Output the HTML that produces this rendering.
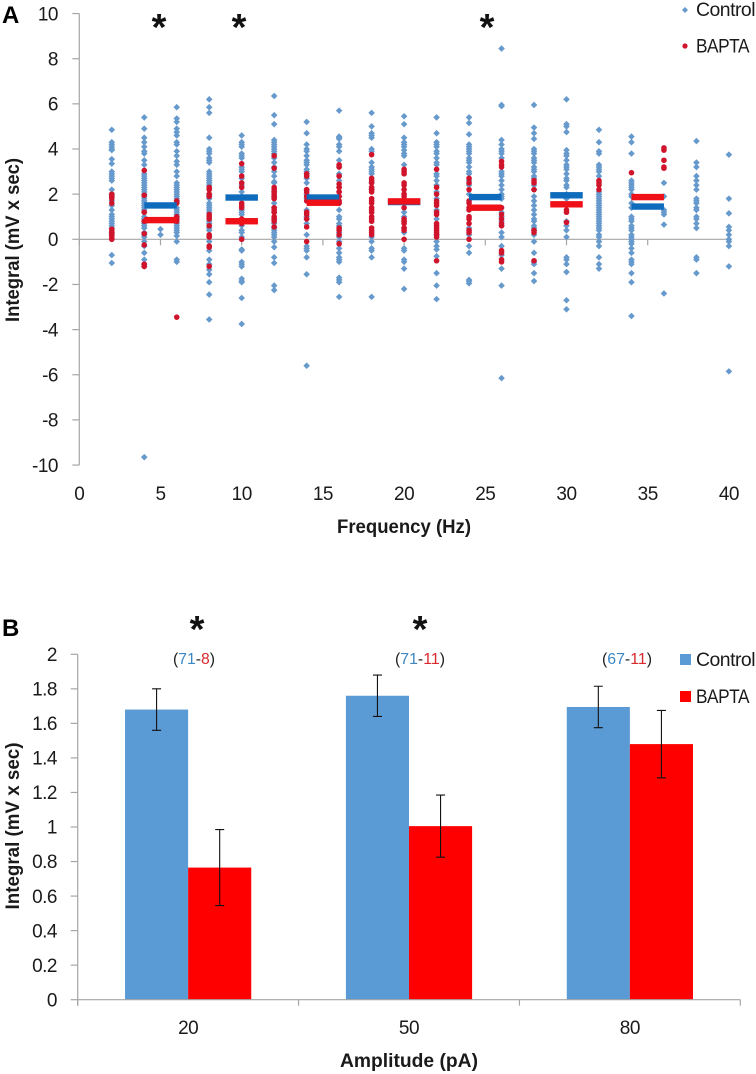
<!DOCTYPE html>
<html>
<head>
<meta charset="utf-8">
<title>Integral vs frequency and amplitude</title>
<style>
html,body{margin:0;padding:0;background:#fff;}
svg{display:block;font-family:"Liberation Sans",sans-serif;fill:#1a1a1a;}
.tick{font-size:19px;letter-spacing:-0.5px;}
.title{font-size:19px;font-weight:bold;}
</style>
</head>
<body>
<svg id="fig" xmlns="http://www.w3.org/2000/svg" width="756" height="1074" viewBox="0 0 756 1074">
  <rect width="756" height="1074" fill="#fff"/>
  <g id="panelA"></g>
  <g id="panelB"></g>

  <text x="2" y="23" font-size="24" font-weight="bold" fill="#000">A</text>
  <text x="2" y="636" font-size="24" font-weight="bold" fill="#000">B</text>

  <text class="title" transform="translate(19,240) rotate(-90)" text-anchor="middle" textLength="164" lengthAdjust="spacingAndGlyphs">Integral (mV x sec)</text>
  <text class="title" x="404" y="533" text-anchor="middle" textLength="134" lengthAdjust="spacingAndGlyphs">Frequency (Hz)</text>
  <text class="title" transform="translate(19,826) rotate(-90)" text-anchor="middle" textLength="167" lengthAdjust="spacingAndGlyphs">Integral (mV x sec)</text>
  <text class="title" x="409" y="1067" text-anchor="middle" textLength="138" lengthAdjust="spacingAndGlyphs">Amplitude (pA)</text>

  <text x="159" y="40" font-size="38" font-weight="bold" text-anchor="middle" fill="#111">*</text>
  <text x="239" y="40" font-size="38" font-weight="bold" text-anchor="middle" fill="#111">*</text>
  <text x="487" y="40" font-size="38" font-weight="bold" text-anchor="middle" fill="#111">*</text>
  <text x="197" y="642" font-size="38" font-weight="bold" text-anchor="middle" fill="#111">*</text>
  <text x="420" y="642" font-size="38" font-weight="bold" text-anchor="middle" fill="#111">*</text>

  <text x="194" y="664" font-size="15.5" text-anchor="middle" textLength="42" lengthAdjust="spacingAndGlyphs" fill="#222">(<tspan fill="#3b87c4">71</tspan>-<tspan fill="#d8272d">8</tspan>)</text>
  <text x="420" y="664" font-size="15.5" text-anchor="middle" textLength="50" lengthAdjust="spacingAndGlyphs" fill="#222">(<tspan fill="#3b87c4">71</tspan>-<tspan fill="#d8272d">11</tspan>)</text>
  <text x="627" y="664" font-size="15.5" text-anchor="middle" textLength="50" lengthAdjust="spacingAndGlyphs" fill="#222">(<tspan fill="#3b87c4">67</tspan>-<tspan fill="#d8272d">11</tspan>)</text>

  <g>
    <path d="M685 7l3 3-3 3-3-3z" fill="#6699cc"/>
    <text class="tick" x="696" y="16" textLength="59" lengthAdjust="spacingAndGlyphs">Control</text>
    <circle cx="685" cy="46" r="2.6" fill="#d0142c"/>
    <text class="tick" x="696" y="52.5" textLength="53" lengthAdjust="spacingAndGlyphs">BAPTA</text>
  </g>
  <g>
    <rect x="680" y="654" width="11" height="11" fill="#5b9bd5"/>
    <text class="tick" x="696" y="666" textLength="59" lengthAdjust="spacingAndGlyphs">Control</text>
    <rect x="680" y="691" width="11" height="11" fill="#ff0000"/>
    <text class="tick" x="696" y="703" textLength="53" lengthAdjust="spacingAndGlyphs">BAPTA</text>
  </g>
</svg>
<script>
// ---------- Panel A data ----------
const xTickLabels = [0, 5, 10, 15, 20, 25, 30, 35, 40];
const yTickLabelsA = [10, 8, 6, 4, 2, 0, -2, -4, -6, -8, -10];

const control2 = [4.85,4.3,4.2,4.1,4,3.95,3.55,3.35,3,2.9,2.8,2.7,2.6,2.2,2,1.9,1.7,1.5,1.3,1.1,1,0.9,0.8,0.7,0.6,0.5,0.3,0.2,-0.7,-1.05];
const control4 = [5.4,4.9,4.5,4.3,4.1,3.9,3.8,3.5,3.3,2.9,2.8,2.7,2.6,2.5,2.4,2.3,2.2,2.1,2,1.9,1.8,1.7,1.6,1.5,1.4,1.3,1.2,1,0.9,0.8,0.7,0.6,0.5,0.3,0.2,0.1,-0.1,-0.3,-0.6,-0.9,-1.1,-1.2,-9.65];
const control5 = [0.45,0.2];
const control6 = [5.85,5.35,5.2,4.9,4.75,4.6,4.3,4.2,3.9,3.7,3.45,3.3,3,2.8,2.5,2.4,2.3,2.2,2.1,2,1.9,1.8,1.7,1.6,1.4,1.3,1.2,1.1,1,0.9,0.7,0.6,0.5,0.4,0.3,0.15,-0.1,-0.9,-1];
const control8 = [6.2,5.85,5.6,4.5,4,3.9,3.8,3.6,3.5,3.4,3,2.9,2.8,2.7,2.6,2.5,2.4,2,1.9,1.8,1.6,1.5,1.4,1.3,1.2,0.8,0.7,0.5,0.4,0.1,-0.1,-0.5,-0.9,-1.1,-1.35,-1.55,-1.9,-2.45,-3.55];
const control10 = [4.6,4.3,4.2,4.1,3.8,3.7,3.6,3.2,3.1,3,2.7,2.4,2.1,1.9,1.3,1.2,1.1,0.6,0.4,0.3,0.1,-0.45,-0.5,-1,-1.1,-1.2,-1.75,-1.85,-1.9,-2.6,-3.75];
const control12 = [6.35,5.5,5.1,4.4,4.3,4.2,4.1,4,3.9,3.8,3.6,3.4,3.2,3,2.8,2.55,2.5,2.1,1.9,1.8,1.6,1.4,1.2,0.9,0.7,0.5,0.4,0.3,0.2,0.1,-0.1,-0.35,-0.8,-1.05,-2.05,-2.25];
const control14 = [5.2,4.7,4.2,4,3.9,3.7,3.5,3.4,3.3,3.1,3,2.9,2.7,2.5,2.2,2,1.8,1.3,1,0.9,0.7,0.2,-0.3,-0.4,-0.5,-0.8,-1.55,-5.6];
const control16 = [5.7,4.55,4.5,4.45,4.2,4.1,3.9,3.5,3.2,2.9,2.6,2.3,2.1,1.9,1.6,1.3,1,0.9,0.7,0.6,0.3,0.1,-0.1,-0.4,-0.6,-0.8,-0.9,-1,-1.7,-1.8,-1.9,-2.55];
const control18 = [5.6,5,4.7,4.6,4.5,4,3.9,3.4,3.2,3.1,3,2.9,2.5,2.2,0.1,-0.1,-0.4,-0.5,-0.8,-2.55];
const control20 = [5.45,5.1,4.5,4.3,4.2,4.1,3.95,3.8,3.7,3.3,1.8,1.2,1,0.8,0.5,0.3,-0.4,-0.5,-0.9,-1,-1.3,-2.2];
const control22 = [5.4,4.7,4.3,4.2,4.1,3.9,3.8,3.6,3.4,3.3,2.9,2.8,2.6,2.4,2.1,1.8,1.3,0.9,0.2,-0.1,-0.3,-0.45,-0.75,-1.5,-2.05,-2.65];
const control24 = [5.4,5.15,4.65,4.2,4.1,4,3.9,3.8,3.6,3.5,3.4,3.2,3,2.9,2.6,2.4,2,0.5,0.2,-0.3,-0.6,-1.8,-1.85,-1.95];
const control26 = [8.45,5.95,5.9,4.4,4.2,4,3.9,3.8,3.6,3,2.9,2.8,2.6,2.4,2.2,2,1.9,1.8,1.2,1,0.8,0.6,0.3,0.1,-0.3,-0.7,-1.3,-2.05,-6.15];
const control28 = [5.95,4.95,4.7,4.45,4,3.9,3.8,3.6,3.5,3.4,3.2,3.1,3,2.8,2.7,2.4,2.2,1.9,1.7,1.5,1.3,1.1,0.9,0.8,0.6,0.5,0.4,0.2,-0.1,-0.6,-1,-1.1,-1.5,-1.85];
const control30 = [6.2,5.1,5,4.75,3.95,3.8,3.7,3.5,3.3,3.2,3.1,2.9,2.7,2.6,2.4,2.3,2,1.8,0.8,0.6,0.4,0.1,-0.8,-0.9,-1.1,-1.45,-2.7,-3.1];
const control32 = [4.85,4.3,3.9,3.8,3.3,3.2,3.1,3,2.8,2.1,2,1.9,1.8,1.7,1.6,1.5,1.4,1.3,1.2,1.1,1,0.9,0.8,0.7,0.6,0.5,0.4,0.2,0.1,-0.1,-0.3,-0.8,-1.1,-1.3];
const control34 = [4.55,4.3,3.8,2.6,2.5,2.4,2.3,2.2,2,1.9,1.6,1.4,1,0.9,0.8,0.6,0.5,0.4,0.2,0.1,0,-0.1,-0.2,-0.4,-0.6,-0.9,-1,-1.1,-1.5,-1.9,-3.4];
const control36 = [2.5,1.9,1.3,1.2,1.1,0.65,-2.4];
const control38 = [4.35,3.4,3.2,2.8,2.6,2.4,2.2,1.8,1.7,1.6,1.4,1.3,1,0.9,0.7,0.5,-0.8,-0.9,-1.5];
const control40 = [3.75,1.8,1.15,0.55,0.4,0.2,0,-0.1,-0.3,-1.2,-5.85];

const bapta2 = [2,1.9,1.8,1.6,0.45,0.35,0.25,0.15,0.05,0];
const bapta4 = [3.05,1.95,1.2,0.8,0.25,-0.25,-1.1,-1.2];
const bapta6 = [1.7,1.6,1,0.9,0.8,-3.45];
const bapta8 = [2.3,2.2,2,1.9,1.1,1,0.9,0.6,0.2,0.1,-0.3,-0.35,-1.2];
const bapta10 = [3.35,2.8,2.5,2.3,1.6,1.5,1.4,0.9,0.7,0];
const bapta12 = [3.7,3.15,2.3,2.2,2.1,2,1.9,1.8,1.4,1.3,1.2,1,0.9,0.8,0.55];
const bapta14 = [2.9,2.8,2.2,2.1,1.9,1.7,1.2,1.1,0.9,0.55,-0.1];
const bapta16 = [3.3,3.2,2.8,2.45,2.3,2.1,1.9,1.7,1.6,0.5,0.4,0.2,-0.2];
const bapta18 = [3.75,2.7,2.6,2.5,2.3,2.2,2.1,1.8,1.7,1.6,1.4,1.3,1.2,1,0.9,0.8,0.5,0.4,0.3,0.2];
const bapta20 = [3.1,3,2.9,2.5,2.4,2.2,2,1.9,1.7,1.4,0.9,0.8,0.7,0.5,0.4,0];
const bapta22 = [3.1,2.3,2,1.7,1.6,1.5,1.2,1.1,0.7,0.6,0.5,0.4,0.3,0.2,0.1,-0.95];
const bapta24 = [2.7,2.5,2.2,1.7,1.6,1.4,1.3,1,0.9,0.7,0.4,0.3,0];
const bapta26 = [3.45,3.3,3.2,1.4,1.1,0.9,0.7,0.6,-0.5,-0.6,-0.9,-1];
const bapta28 = [2.6,2.5,2.2,0.4,0.3,-0.95];
const bapta30 = [1.3,1.2,0.75];
const bapta32 = [2.6,2.5,2.4,2.2];
const bapta34 = [2.95];
const bapta36 = [4.05,3.95,3.5,3.2,3.15];

const controlFreqs = [2,4,5,6,8,10,12,14,16,18,20,22,24,26,28,30,32,34,36,38,40];
const controlPoints = [control2,control4,control5,control6,control8,control10,control12,control14,control16,control18,control20,control22,control24,control26,control28,control30,control32,control34,control36,control38,control40];
const baptaFreqs = [2,4,6,8,10,12,14,16,18,20,22,24,26,28,30,32,34,36];
const baptaPoints = [bapta2,bapta4,bapta6,bapta8,bapta10,bapta12,bapta14,bapta16,bapta18,bapta20,bapta22,bapta24,bapta26,bapta28,bapta30,bapta32,bapta34,bapta36];

const meanFreqs = [5, 10, 15, 20, 25, 30, 35];
const controlMeans = [1.5, 1.85, 1.85, 1.65, 1.87, 1.95, 1.45];
const baptaMeans = [0.85, 0.8, 1.62, 1.68, 1.4, 1.55, 1.87];

// ---------- Panel B data ----------
const amplitudeLabels = ['20', '50', '80'];
const yTickLabelsB = ['2', '1.8', '1.6', '1.4', '1.2', '1', '0.8', '0.6', '0.4', '0.2', '0'];
const controlBars = [1.68, 1.76, 1.695];
const baptaBars = [0.765, 1.005, 1.48];
const controlErrors = [0.12, 0.12, 0.12];
const baptaErrors = [0.22, 0.18, 0.195];

// ---------- Axis functions ----------
const xA = v => 79.3 + v * 16.24;
const yA = v => 239.3 - v * 22.575;
const xB = i => 77.7 + i * 220.87;
const yB = v => 999.7 - v * 172.7;

const NS = 'http://www.w3.org/2000/svg';
const AXIS = '#a6a6a6';
function make(tag, attrs, parent, txt) {
  const n = document.createElementNS(NS, tag);
  for (const k in attrs) n.setAttribute(k, attrs[k]);
  if (txt !== undefined) n.textContent = txt;
  parent.appendChild(n);
  return n;
}

// ---------- Panel A ----------
const A = document.getElementById('panelA');

const axisAy = make('line', {x1: xA(0), x2: xA(0), y1: yA(10), y2: yA(-10), stroke: AXIS, 'stroke-width': 1.2}, A);


const axisAx = make('line', {x1: xA(0), x2: xA(40), y1: yA(0), y2: yA(0), stroke: AXIS, 'stroke-width': 1.2}, A);



yTickLabelsA.forEach(v => {
  const t = make('line', {x1: xA(0) - 7, x2: xA(0), y1: yA(v), y2: yA(v), stroke: AXIS, 'stroke-width': 1.2}, A);
  
  
  const l = make('text', {class: 'tick', x: 58, y: yA(v) + 6.7, 'text-anchor': 'end'}, A, String(v));
  
  
});

xTickLabels.forEach(v => {
  const t = make('line', {x1: xA(v), x2: xA(v), y1: yA(0), y2: yA(0) + 6, stroke: AXIS, 'stroke-width': 1.2}, A);
  
  
  const l = make('text', {class: 'tick', x: xA(v), y: 500, 'text-anchor': 'middle'}, A, String(v));
  
  
});

controlFreqs.forEach((f, i) => {
  controlPoints[i].forEach(v => {
    const cx = xA(f), cy = yA(v);
    const p = make('path', {d: `M${cx} ${cy - 3.3}L${cx + 3.3} ${cy}L${cx} ${cy + 3.3}L${cx - 3.3} ${cy}Z`, fill: '#6699cc'}, A);
    
    
  });
});

baptaFreqs.forEach((f, i) => {
  baptaPoints[i].forEach(v => {
    const c = make('circle', {cx: xA(f), cy: yA(v), r: 2.8, fill: '#d0142c'}, A);
    
    
  });
});

meanFreqs.forEach((f, i) => {
  const b = make('rect', {x: xA(f - 1), width: xA(f + 1) - xA(f - 1), y: yA(controlMeans[i]) - 3.2, height: 6.4, fill: '#0f6cbd'}, A);
  
  
});
meanFreqs.forEach((f, i) => {
  const r = make('rect', {x: xA(f - 1), width: xA(f + 1) - xA(f - 1), y: yA(baptaMeans[i]) - 3.2, height: 6.4, fill: '#f01018'}, A);
  
  
});

// ---------- Panel B ----------
const B = document.getElementById('panelB');
const barW = 220.87 / 3.5;

const axisBy = make('line', {x1: xB(0), x2: xB(0), y1: yB(2), y2: yB(0) + 6, stroke: AXIS, 'stroke-width': 1.2}, B);



yTickLabelsB.forEach(s => {
  const v = parseFloat(s);
  const t = make('line', {x1: xB(0) - 7, x2: xB(0), y1: yB(v), y2: yB(v), stroke: AXIS, 'stroke-width': 1.2}, B);
  
  
  const l = make('text', {class: 'tick', x: 57, y: yB(v) + 6.7, 'text-anchor': 'end'}, B, s);
  
  
});

amplitudeLabels.forEach((s, i) => {
  const mid = xB(i + 0.5);
  const cBar = make('rect', {x: mid - barW, y: yB(controlBars[i]), width: barW, height: yB(0) - yB(controlBars[i]), fill: '#5b9bd5'}, B);
  
  
  const rBar = make('rect', {x: mid, y: yB(baptaBars[i]), width: barW, height: yB(0) - yB(baptaBars[i]), fill: '#ff0000'}, B);
  
  

  const drawErr = (cx, v, e, name) => {
    const top = yB(v + e), bot = yB(v - e);
    const d = `M${cx - 4.5} ${top}H${cx + 4.5}M${cx} ${top}V${bot}M${cx - 4.5} ${bot}H${cx + 4.5}`;
    const p = make('path', {d: d, stroke: '#111', 'stroke-width': 1.1, fill: 'none'}, B);
    
    
  };
  drawErr(mid - barW / 2, controlBars[i], controlErrors[i], 'control-error-bar-' + s);
  drawErr(mid + barW / 2, baptaBars[i], baptaErrors[i], 'bapta-error-bar-' + s);

  const l = make('text', {class: 'tick', x: mid, y: 1034, 'text-anchor': 'middle'}, B, s);
  
  
});

const axisBx = make('line', {x1: xB(0), x2: xB(3), y1: yB(0), y2: yB(0), stroke: AXIS, 'stroke-width': 1.2}, B);



[0, 1, 2, 3].forEach(i => {
  const t = make('line', {x1: xB(i), x2: xB(i), y1: yB(0), y2: yB(0) + 6, stroke: AXIS, 'stroke-width': 1.2}, B);
  
  
});
</script>
</body>
</html>
